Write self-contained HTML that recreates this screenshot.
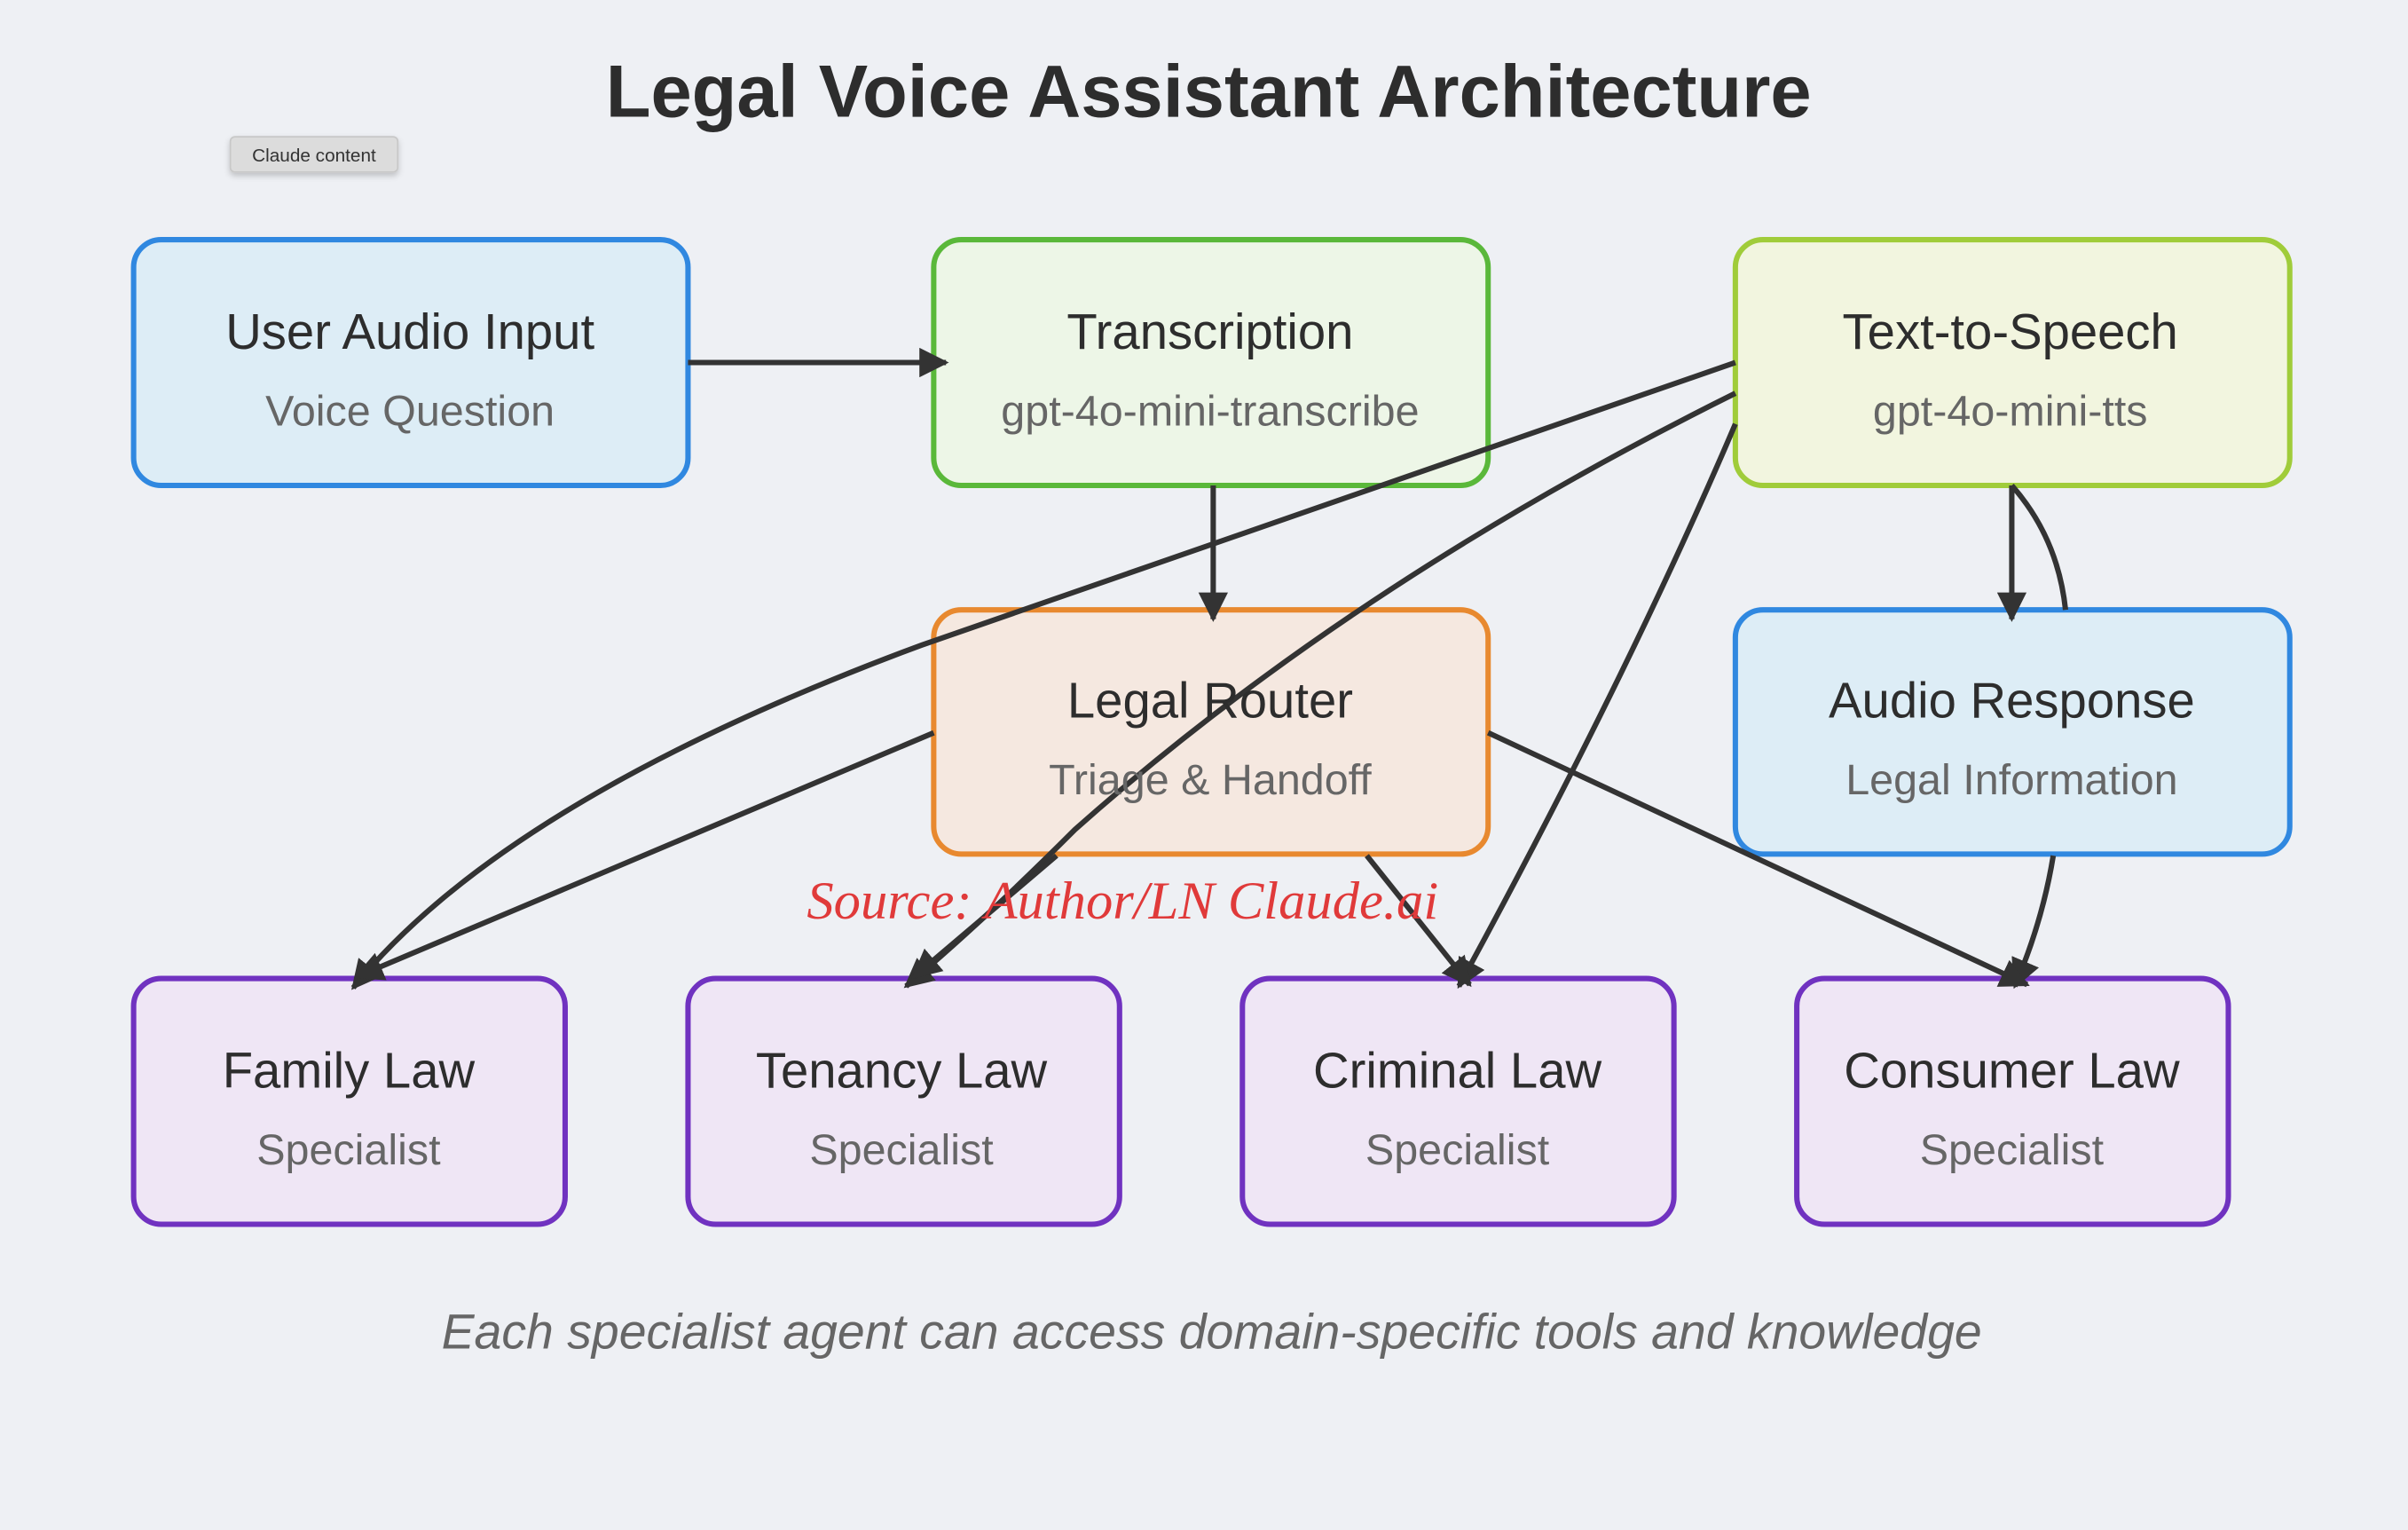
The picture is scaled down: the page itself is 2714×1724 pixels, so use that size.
<!DOCTYPE html>
<html><head><meta charset="utf-8"><style>
html,body{margin:0;padding:0;background:#eef0f4;}
svg{display:block;}
</style></head><body>
<svg width="2714" height="1724" viewBox="0 0 1568 996" xmlns="http://www.w3.org/2000/svg" font-family="Liberation Sans, sans-serif">
<defs>
<marker id="a" viewBox="0 0 10 10" refX="9" refY="5" markerWidth="5.5" markerHeight="5.5" orient="auto-start-reverse" markerUnits="strokeWidth">
<path d="M0,0 L10,5 L0,10 z" fill="#333"/></marker>
<filter id="sh" x="-20%" y="-30%" width="140%" height="180%"><feDropShadow dx="0" dy="2" stdDeviation="2" flood-color="#000" flood-opacity="0.2"/></filter>
</defs>
<rect width="1568" height="996" fill="#eef0f4"/>
<text x="787" y="76" text-anchor="middle" font-size="48" font-weight="bold" fill="#2d2d2d">Legal Voice Assistant Architecture</text>
<rect x="150" y="89" width="109" height="23" rx="3" fill="#dcdcdc" stroke="#c8c8c8" filter="url(#sh)"/>
<text x="204.5" y="105" text-anchor="middle" font-size="12" fill="#333">Claude content</text>

<g stroke-width="3.5">
<rect x="87" y="156" width="361" height="160" rx="18" fill="#ddedf6" stroke="#3088e0"/>
<rect x="608" y="156" width="361" height="160" rx="18" fill="#edf6e7" stroke="#5ab83a"/>
<rect x="1130" y="156" width="361" height="160" rx="18" fill="#f2f5df" stroke="#a0cc3a"/>
<rect x="608" y="397" width="361" height="159" rx="18" fill="#f5e8e0" stroke="#e8892f"/>
<rect x="1130" y="397" width="361" height="159" rx="18" fill="#ddedf6" stroke="#3088e0"/>
<rect x="87" y="637" width="281" height="160" rx="18" fill="#efe6f5" stroke="#7032c0"/>
<rect x="448" y="637" width="281" height="160" rx="18" fill="#efe6f5" stroke="#7032c0"/>
<rect x="809" y="637" width="281" height="160" rx="18" fill="#efe6f5" stroke="#7032c0"/>
<rect x="1170" y="637" width="281" height="160" rx="18" fill="#efe6f5" stroke="#7032c0"/>
</g>

<g fill="none" stroke="#333" stroke-width="3.5">
<line x1="448" y1="236" x2="616" y2="236" marker-end="url(#a)"/>
<line x1="790" y1="316" x2="790" y2="403" marker-end="url(#a)"/>
<line x1="1310" y1="316" x2="1310" y2="403" marker-end="url(#a)"/>
<path d="M1310,316 Q1340,350 1345,397"/>
<path d="M1337,557 Q1330,600 1312,642" marker-end="url(#a)"/>
<path d="M1130,236 Q830,340 600,420 Q330,520 230,643" marker-end="url(#a)"/>
<path d="M1130,256 Q880,380 700,540 Q640,600 590,642" marker-end="url(#a)"/>
<path d="M1130,276 Q1060,440 950,642" marker-end="url(#a)"/>
<line x1="608" y1="477" x2="232" y2="636" marker-end="url(#a)"/>
<line x1="688" y1="557" x2="595" y2="636" marker-end="url(#a)"/>
<line x1="890" y1="557" x2="957" y2="641" marker-end="url(#a)"/>
<line x1="969" y1="477" x2="1320" y2="641" marker-end="url(#a)"/>
</g>

<g text-anchor="middle">
<g font-size="32.5" fill="#2d2d2d">
<text x="267" y="227">User Audio Input</text>
<text x="788" y="227">Transcription</text>
<text x="1309" y="227">Text-to-Speech</text>
<text x="788" y="467">Legal Router</text>
<text x="1310" y="467">Audio Response</text>
<text x="227" y="708">Family Law</text>
<text x="587" y="708">Tenancy Law</text>
<text x="949" y="708">Criminal Law</text>
<text x="1310" y="708">Consumer Law</text>
</g>
<g font-size="28" fill="#666">
<text x="267" y="277">Voice Question</text>
<text x="788" y="277">gpt-4o-mini-transcribe</text>
<text x="1309" y="277">gpt-4o-mini-tts</text>
<text x="788" y="517">Triage &amp; Handoff</text>
<text x="1310" y="517">Legal Information</text>
<text x="227" y="758">Specialist</text>
<text x="587" y="758">Specialist</text>
<text x="949" y="758">Specialist</text>
<text x="1310" y="758">Specialist</text>
</g>
<text x="731" y="598" font-family="Liberation Serif, serif" font-style="italic" font-size="35" fill="#e03a3a">Source: Author/LN Claude.ai</text>
<text x="789" y="878" font-size="32" font-style="italic" fill="#666">Each specialist agent can access domain-specific tools and knowledge</text>
</g>
</svg>
</body></html>
